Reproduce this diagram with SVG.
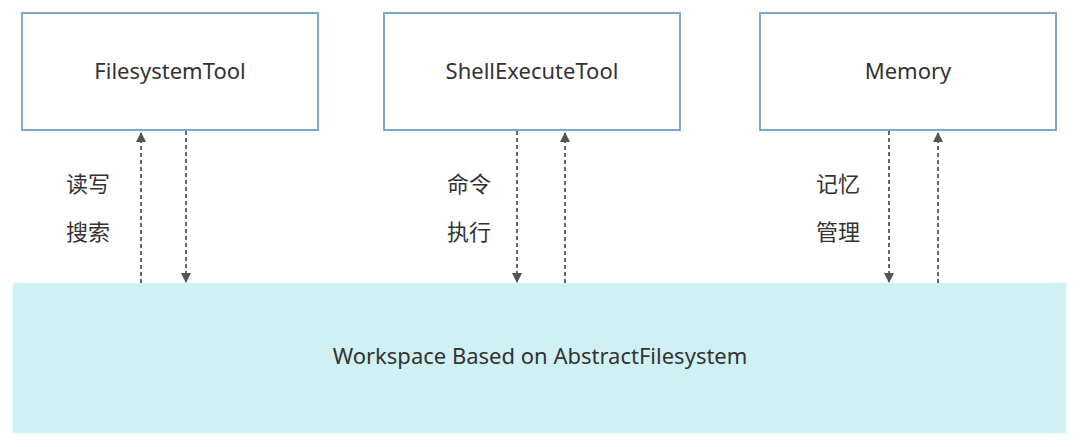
<svg xmlns="http://www.w3.org/2000/svg" width="1080" height="447" viewBox="0 0 1080 447">
<style>
.box{fill:#fff;stroke:#7da6d2;stroke-width:2}
.t{font-family:"Noto Sans","Noto Sans CJK SC",sans-serif;font-size:22px;fill:#333;text-anchor:middle}
.c{font-family:"Noto Sans CJK SC",sans-serif;font-size:22px;fill:#333}
.ln{stroke:#666;stroke-width:2;stroke-dasharray:4,3;fill:none}
</style>
<defs><marker id="a" markerWidth="10" markerHeight="10" refX="9" refY="5" orient="auto" markerUnits="userSpaceOnUse"><path d="M0,0 L10,5 L0,10 z" fill="#555"/></marker></defs>
<rect width="1080" height="447" fill="#fff"/>
<g id="ws"><rect x="13" y="283" width="1053" height="150" fill="#d0f1f4" stroke="#e0f5f7" stroke-width="1"/><text class="t" x="540" y="364">Workspace Based on AbstractFilesystem</text></g>
<g id="fs"><rect class="box" x="22" y="13" width="296" height="117"/><text class="t" x="170" y="79">FilesystemTool</text></g>
<g id="sh"><rect class="box" x="384" y="13" width="296" height="117"/><text class="t" x="532" y="79">ShellExecuteTool</text></g>
<g id="mem"><rect class="box" x="760" y="13" width="296" height="117"/><text class="t" x="908" y="79">Memory</text></g>
<g id="connectors">
<line class="ln" x1="141" y1="283" x2="141" y2="133" marker-end="url(#a)"/>
<line class="ln" x1="186" y1="131" x2="186" y2="282" marker-end="url(#a)"/>
<line class="ln" x1="517" y1="131" x2="517" y2="282" marker-end="url(#a)"/>
<line class="ln" x1="565" y1="283" x2="565" y2="133" marker-end="url(#a)"/>
<line class="ln" x1="889" y1="131" x2="889" y2="282" marker-end="url(#a)"/>
<line class="ln" x1="938" y1="283" x2="938" y2="133" marker-end="url(#a)"/>
</g>
<g id="labels">
<text class="c" x="66" y="192">读写</text><text class="c" x="66" y="240">搜索</text>
<text class="c" x="447" y="192">命令</text><text class="c" x="447" y="240">执行</text>
<text class="c" x="816" y="192">记忆</text><text class="c" x="816" y="240">管理</text>
</g>
</svg>
